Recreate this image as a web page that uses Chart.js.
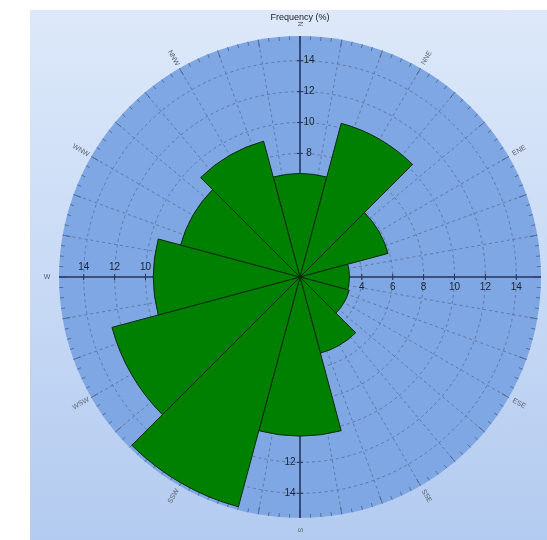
<!DOCTYPE html>
<html>
<head>
<meta charset="utf-8">
<script src="https://cdn.jsdelivr.net/npm/chart.js@4.4.0/dist/chart.umd.min.js"></script>
<style>
  html, body { margin: 0; padding: 0; background: #fff; }
  #wrap {
    position: absolute; left: 30px; top: 10px; width: 517px; height: 530px;
    background: linear-gradient(to bottom, #dde9fa, #b3cbf0);
  }
</style>
</head>
<body>
<div id="wrap"><canvas id="myChart"></canvas></div>
<script>
// wind rose, 12 sectors of 30 deg, clockwise from north
const directions = ['N', 'NNE', 'ENE', 'E', 'ESE', 'SSE', 'S', 'SSW', 'WSW', 'W', 'WNW', 'NNW'];
const frequency = [6.7, 10.3, 5.9, 3.2, 3.3, 5.1, 10.3, 15.4, 12.6, 9.5, 8.0, 9.1];
const tickValues = [2, 4, 6, 8, 10, 12, 14];
const axisMax = 15.6;

const gridColor = 'rgba(80,96,130,0.65)';

// spokes, rim ticks, axes and labels round the rose
const roseDecor = {
    id: 'roseDecor',
    beforeDatasetsDraw(chart) {
        const s = chart.scales.r;
        const c = chart.ctx;
        const cx = s.xCenter, cy = s.yCenter, R = s.drawingArea;
        c.save();
        c.strokeStyle = gridColor;
        c.lineWidth = 1;
        c.setLineDash([3, 3]);
        for (let a = 0; a < 360; a += 10) {
            if (a % 90 === 0) continue;
            const t = a * Math.PI / 180;
            c.beginPath();
            c.moveTo(cx, cy);
            c.lineTo(cx + R * Math.sin(t), cy - R * Math.cos(t));
            c.stroke();
        }
        c.setLineDash([]);
        c.strokeStyle = 'rgba(70,85,115,0.7)';
        for (let a = 0; a < 360; a += 2.5) {
            const t = a * Math.PI / 180;
            const len = a % 10 === 0 ? 8 : 4;
            c.beginPath();
            c.moveTo(cx + R * Math.sin(t), cy - R * Math.cos(t));
            c.lineTo(cx + (R - len) * Math.sin(t), cy - (R - len) * Math.cos(t));
            c.stroke();
        }
        // main axes
        c.strokeStyle = '#27345c';
        c.lineWidth = 1.6;
        c.beginPath();
        c.moveTo(cx, cy - R); c.lineTo(cx, cy + R);
        c.moveTo(cx - R, cy); c.lineTo(cx + R, cy);
        c.stroke();
        c.lineWidth = 1;
        c.font = '10px "Liberation Sans", Arial, sans-serif';
        c.fillStyle = '#1c2233';
        c.textAlign = 'center';
        c.textBaseline = 'middle';
        tickValues.forEach(v => {
            const d = s.getDistanceFromCenterForValue(v);
            c.beginPath();
            c.moveTo(cx - 3, cy - d); c.lineTo(cx + 3, cy - d);
            c.moveTo(cx - 3, cy + d); c.lineTo(cx + 3, cy + d);
            c.moveTo(cx + d, cy - 3); c.lineTo(cx + d, cy + 3);
            c.moveTo(cx - d, cy - 3); c.lineTo(cx - d, cy + 3);
            c.stroke();
            c.fillText(String(v), cx + 9, cy - d);
            c.fillText(String(v), cx + d, cy + 10);
            c.fillText(String(v), cx - 10, cy + d);
            c.fillText(String(v), cx - d, cy - 10);
        });
        c.restore();
    },
    afterDraw(chart) {
        const s = chart.scales.r;
        const c = chart.ctx;
        const cx = s.xCenter, cy = s.yCenter, R = s.drawingArea;
        c.save();
        c.fillStyle = '#5a6070';
        c.font = '7px "Liberation Sans", Arial, sans-serif';
        c.textAlign = 'center';
        c.textBaseline = 'middle';
        directions.forEach((name, i) => {
            const a = i * 30;
            const t = a * Math.PI / 180;
            let rot = a - 90;
            while (rot > 90) rot -= 180;
            while (rot <= -90) rot += 180;
            c.save();
            c.translate(cx + (R + 12) * Math.sin(t), cy - (R + 12) * Math.cos(t));
            c.rotate(rot * Math.PI / 180);
            c.fillText(name, 0, 0);
            c.restore();
        });
        c.fillStyle = '#222';
        c.font = '9px "Liberation Sans", Arial, sans-serif';
        c.fillText('Frequency (%)', cx, cy - R - 18);
        c.restore();
    }
};

const ctx = document.getElementById('myChart').getContext('2d');
const myChart = new Chart(ctx, {
    type: 'polarArea',
    data: {
        labels: directions,
        datasets: [{
            label: 'Frequency (%)',
            data: frequency,
            backgroundColor: '#008000',
            borderColor: '#0c2a0c',
            borderWidth: 1
        }]
    },
    options: {
        responsive: true,
        maintainAspectRatio: false,
        animation: false,
        layout: { padding: { left: 29, right: 6, top: 26, bottom: 22 } },
        plugins: {
            legend: { display: false },
            tooltip: { enabled: false }
        },
        scales: {
            r: {
                min: 0,
                max: axisMax,
                startAngle: -15,
                backgroundColor: '#7fa7e4',
                ticks: { display: false, stepSize: 2 },
                grid: {
                    circular: true,
                    color: (g) => (g.tick && g.tick.value > 14.5) ? 'rgba(0,0,0,0)' : gridColor
                },
                border: { dash: [3, 3] },
                angleLines: { display: false },
                pointLabels: { display: false }
            }
        }
    },
    plugins: [roseDecor]
});
</script>
</body>
</html>
